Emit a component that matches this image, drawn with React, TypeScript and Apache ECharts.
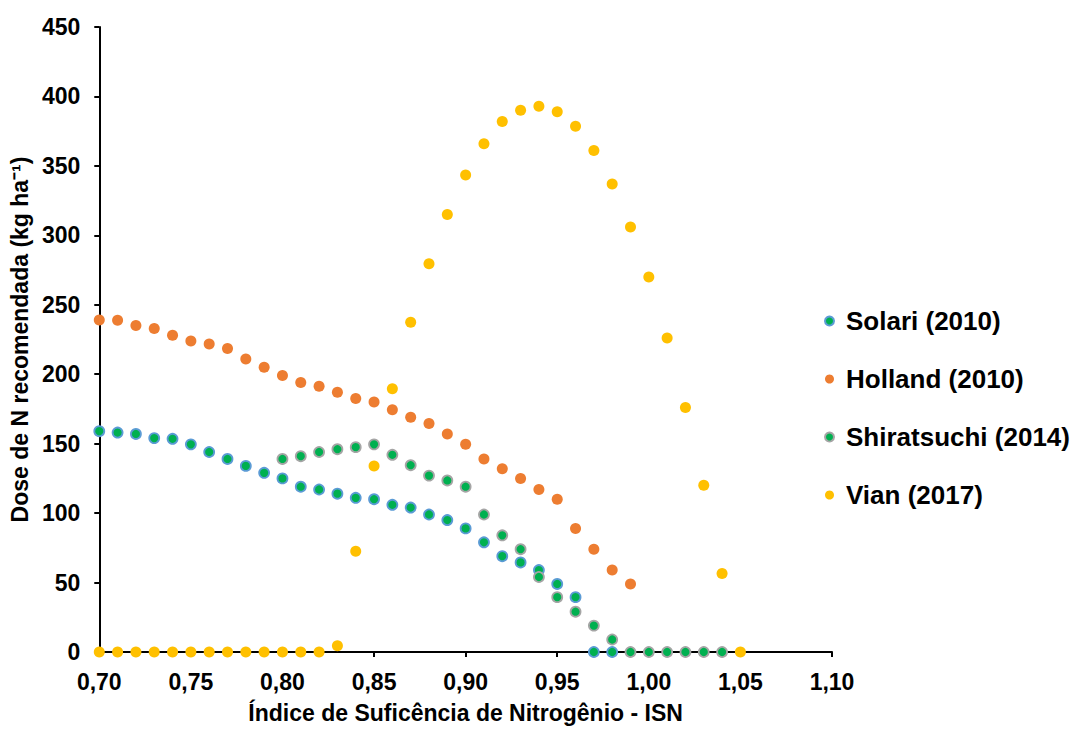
import React, { useEffect, useRef } from "react";
import * as echarts from "echarts";

const ISN = [
  0.7, 0.71, 0.72, 0.73, 0.74, 0.75, 0.76, 0.77, 0.78, 0.79,
  0.8, 0.81, 0.82, 0.83, 0.84, 0.85, 0.86, 0.87, 0.88, 0.89,
  0.9, 0.91, 0.92, 0.93, 0.94, 0.95, 0.96, 0.97, 0.98, 0.99,
  1.0, 1.01, 1.02, 1.03, 1.04, 1.05,
];

// Solari (2010): ISN 0.70 .. 0.98
const solari = [
  159, 158, 157, 154, 153.5, 149.5, 144, 139, 134, 129,
  125, 119, 117, 114, 111, 110, 106, 104, 99, 95,
  89, 79, 69, 64.5, 59, 49, 39.5, 0, 0,
];
// Holland (2010): ISN 0.70 .. 0.99
const holland = [
  239, 238.8, 235, 233, 228, 224, 221.7, 218.6, 211, 205,
  199, 194, 191.4, 187, 182.6, 180, 174.5, 169, 164.5, 157,
  149.5, 139, 132, 125, 117, 110, 89, 74, 59, 49,
];
// Shiratsuchi (2014): ISN 0.80 .. 1.04
const shiratsuchi = [
  139, 141, 144, 146, 147.5, 149.5, 142, 134.5, 127, 123.5,
  119, 99, 84, 74, 54, 39.5, 29, 19, 9, 0,
  0, 0, 0, 0, 0,
];
// Vian (2017): ISN 0.70 .. 1.05
const vian = [
  0, 0, 0, 0, 0, 0, 0, 0, 0, 0,
  0, 0, 0, 4.5, 72.5, 134, 189.5, 237.5, 279.5, 315,
  343.5, 366, 382, 390, 393, 389, 378.5, 361, 337, 306,
  270, 226, 176, 120, 56.5, 0,
];

const seriesNames = ["Solari (2010)", "Holland (2010)", "Shiratsuchi (2014)", "Vian (2017)"];
const xTitle = "Índice de Suficência de Nitrogênio - ISN";
const yTitle = "Dose de N recomendada (kg ha⁻¹)";

const pairs = (vals: number[], startIdx: number) =>
  vals.map((v, i) => [ISN[startIdx + i], v]);

const FONT = "Arial, 'Liberation Sans', sans-serif";

export default function App() {
  const ref = useRef<HTMLDivElement>(null);
  useEffect(() => {
    document.body.style.margin = "0";
    const chart = echarts.init(ref.current!, null, { renderer: "svg" });
    const axisCommon = {
      axisLine: { show: true, lineStyle: { color: "#000", width: 2 } },
      axisTick: { show: true, inside: false, length: 5, lineStyle: { color: "#000", width: 2 } },
      splitLine: { show: false },
      nameLocation: "middle" as const,
      nameTextStyle: { fontFamily: FONT, fontWeight: "bold", fontSize: 23, color: "#000" },
    };
    chart.setOption({
      animation: false,
      backgroundColor: "#fff",
      textStyle: { fontFamily: FONT },
      grid: { left: 99, top: 27, width: 733, height: 630, containLabel: false },
      xAxis: {
        type: "value",
        min: 0.7,
        max: 1.1,
        interval: 0.05,
        ...axisCommon,
        name: xTitle,
        nameGap: 49,
        axisLabel: {
          margin: 18,
          fontFamily: FONT,
          fontWeight: "bold",
          fontSize: 23,
          color: "#000",
          formatter: (v: number) => v.toFixed(2).replace(".", ","),
        },
      },
      yAxis: {
        type: "value",
        min: 0,
        max: 450,
        interval: 50,
        ...axisCommon,
        name: yTitle,
        nameGap: 66,
        axisLabel: {
          margin: 19,
          fontFamily: FONT,
          fontWeight: "bold",
          fontSize: 23,
          color: "#000",
        },
      },
      legend: {
        orient: "vertical",
        left: 819,
        top: 303,
        itemGap: 32,
        itemWidth: 9,
        itemHeight: 9,
        icon: "circle",
        textStyle: { fontFamily: FONT, fontWeight: "bold", fontSize: 26, color: "#000", padding: [0, 0, 0, 7] },
        data: seriesNames,
      },
      series: [
        {
          name: seriesNames[0],
          type: "scatter",
          symbolSize: 10,
          itemStyle: { color: "#00B050", borderColor: "#5B9BD5", borderWidth: 1.8, opacity: 1 },
          data: pairs(solari, 0),
        },
        {
          name: seriesNames[1],
          type: "scatter",
          symbolSize: 11,
          itemStyle: { color: "#ED7D31", opacity: 1 },
          data: pairs(holland, 0),
        },
        {
          name: seriesNames[2],
          type: "scatter",
          symbolSize: 10,
          itemStyle: { color: "#00B050", borderColor: "#A5A5A5", borderWidth: 1.8, opacity: 1 },
          data: pairs(shiratsuchi, 10),
        },
        {
          name: seriesNames[3],
          type: "scatter",
          symbolSize: 11,
          itemStyle: { color: "#FFC000", opacity: 1 },
          data: pairs(vian, 0),
        },
      ],
    });
    return () => chart.dispose();
  }, []);
  return (
    <div
      ref={ref}
      style={{ position: "absolute", left: 0, top: 0, width: 1078, height: 729 }}
    />
  );
}
